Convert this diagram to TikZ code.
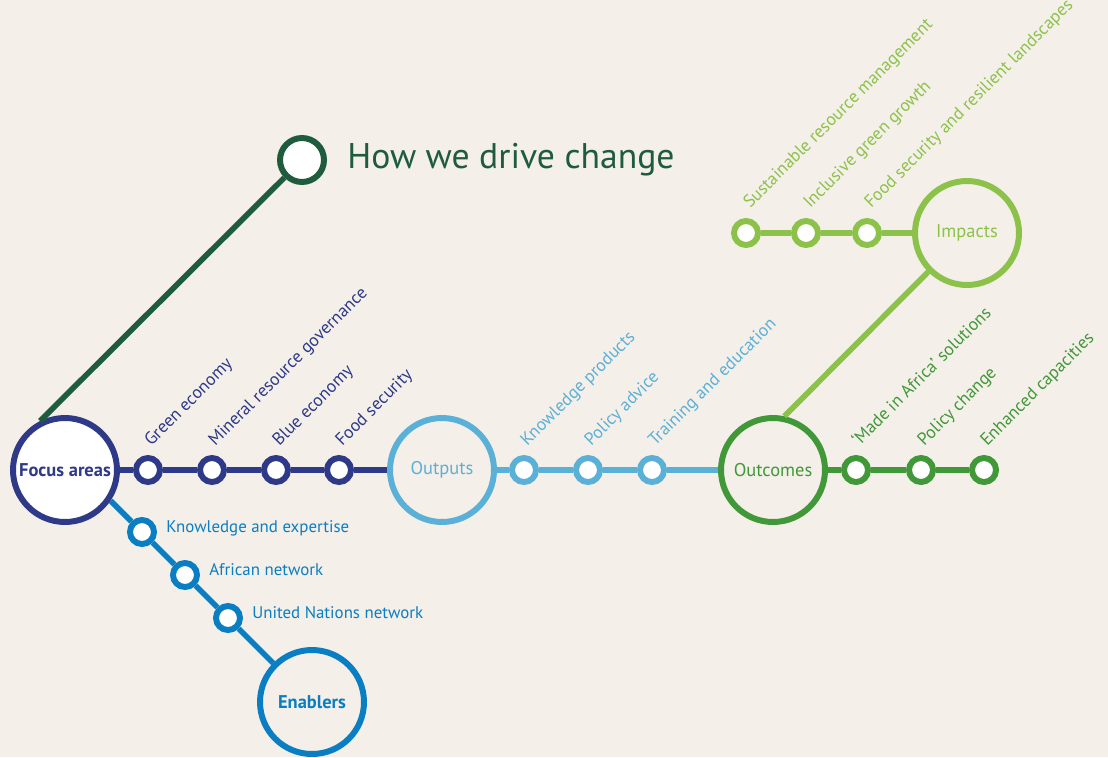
\documentclass[tikz,border=0pt]{standalone}
\usepackage{fontspec}
\setmainfont{PT Sans}
\usetikzlibrary{positioning}

\definecolor{bgbeige}{RGB}{244,239,232}
\definecolor{focusnavy}{RGB}{46,58,135}
\definecolor{outsky}{RGB}{91,176,216}
\definecolor{outgreen}{RGB}{64,152,56}
\definecolor{implime}{RGB}{140,194,74}
\definecolor{enblue}{RGB}{10,126,194}
\definecolor{howgreen}{RGB}{31,92,62}

\begin{document}
\begin{tikzpicture}[
    x=0.02cm, y=-0.02cm,
    every node/.style={font=\fontsize{9.6}{11}\selectfont},
    hub/.style={draw=#1, text=#1, circle, line width=3.4pt, minimum size=2.08cm, inner sep=0pt, fill=bgbeige},
    station/.style={draw=#1, circle, line width=3.4pt, minimum size=0.48cm, inner sep=0pt, fill=white},
    conn/.style={line width=3.2pt},
    lbl/.style={rotate=45, anchor=base west, inner sep=0pt, text=#1, font=\fontsize{10}{12}\selectfont},
    side/.style={anchor=base west, inner sep=0pt, text=enblue}
]
\useasboundingbox (0,0) rectangle (1108,757);
\fill[bgbeige] (0,0) rectangle (1108,757);

% hubs
\node[hub=focusnavy, fill=white, font=\fontsize{10.5}{12}\selectfont\bfseries] (focus) at (65,470) {Focus areas};
\node[hub=outsky, font=\fontsize{10.5}{12}\selectfont] (outputs) at (442,470) {Outputs};
\node[hub=outgreen, font=\fontsize{10.5}{12}\selectfont] (outcomes) at (773,470) {Outcomes};
\node[hub=implime, font=\fontsize{10.5}{12}\selectfont] (impacts) at (967,233) {Impacts};
\node[hub=enblue, font=\fontsize{10.5}{12}\selectfont\bfseries] (enablers) at (312,702) {Enablers};
\node[station=howgreen, minimum size=0.88cm] (how) at (302,160) {};
\node[right=0.4cm of how, anchor=west, inner sep=0pt, text=howgreen, font=\fontsize{20.3}{24}\selectfont] (title) {How we drive change};

% stations and their labels
\foreach \x/\nm/\txt in {148/f1/Green economy, 212/f2/Mineral resource governance, 276/f3/Blue economy, 339/f4/Food security} {
  \node[station=focusnavy] (\nm) at (\x,470) {};
  \node[lbl=focusnavy] at ([shift={(3,-23)}]\nm.center) {\txt};
}
\foreach \x/\nm/\txt in {524/o1/Knowledge products, 588/o2/Policy advice, 652/o3/Training and education} {
  \node[station=outsky] (\nm) at (\x,470) {};
  \node[lbl=outsky] at ([shift={(3,-23)}]\nm.center) {\txt};
}
\foreach \x/\nm/\txt in {856/c1/`Made in Africa'\ solutions, 921/c2/Policy change, 984/c3/Enhanced capacities} {
  \node[station=outgreen] (\nm) at (\x,470) {};
  \node[lbl=outgreen] at ([shift={(3,-23)}]\nm.center) {\txt};
}
\foreach \x/\nm/\txt in {746/i1/Sustainable resource management, 806/i2/Inclusive green growth, 867/i3/Food security and resilient landscapes} {
  \node[station=implime] (\nm) at (\x,233) {};
  \node[lbl=implime] at ([shift={(4,-24)}]\nm.center) {\txt};
}
\foreach \x/\y/\nm/\txt in {142/532/e1/Knowledge and expertise, 185/575/e2/African network, 228/618/e3/United Nations network} {
  \node[station=enblue] (\nm) at (\x,\y) {};
  \node[side] at ([shift={(24,0)}]\nm.center) {\txt};
}

% lines
\draw[conn, focusnavy] (focus) -- (f1) -- (f2) -- (f3) -- (f4) -- (outputs);
\draw[conn, outsky] (outputs) -- (o1) -- (o2) -- (o3) -- (outcomes);
\draw[conn, outgreen] (outcomes) -- (c1) -- (c2) -- (c3);
\draw[conn, implime] (i1) -- (i2) -- (i3) -- (impacts);
\draw[conn, implime] (outcomes.78) -- (impacts.225);
\draw[conn, enblue] (focus.-34) -- (e1) -- (e2) -- (e3) -- (enablers);
\draw[conn, howgreen] (focus.117) -- (how.225);
\end{tikzpicture}
\end{document}
